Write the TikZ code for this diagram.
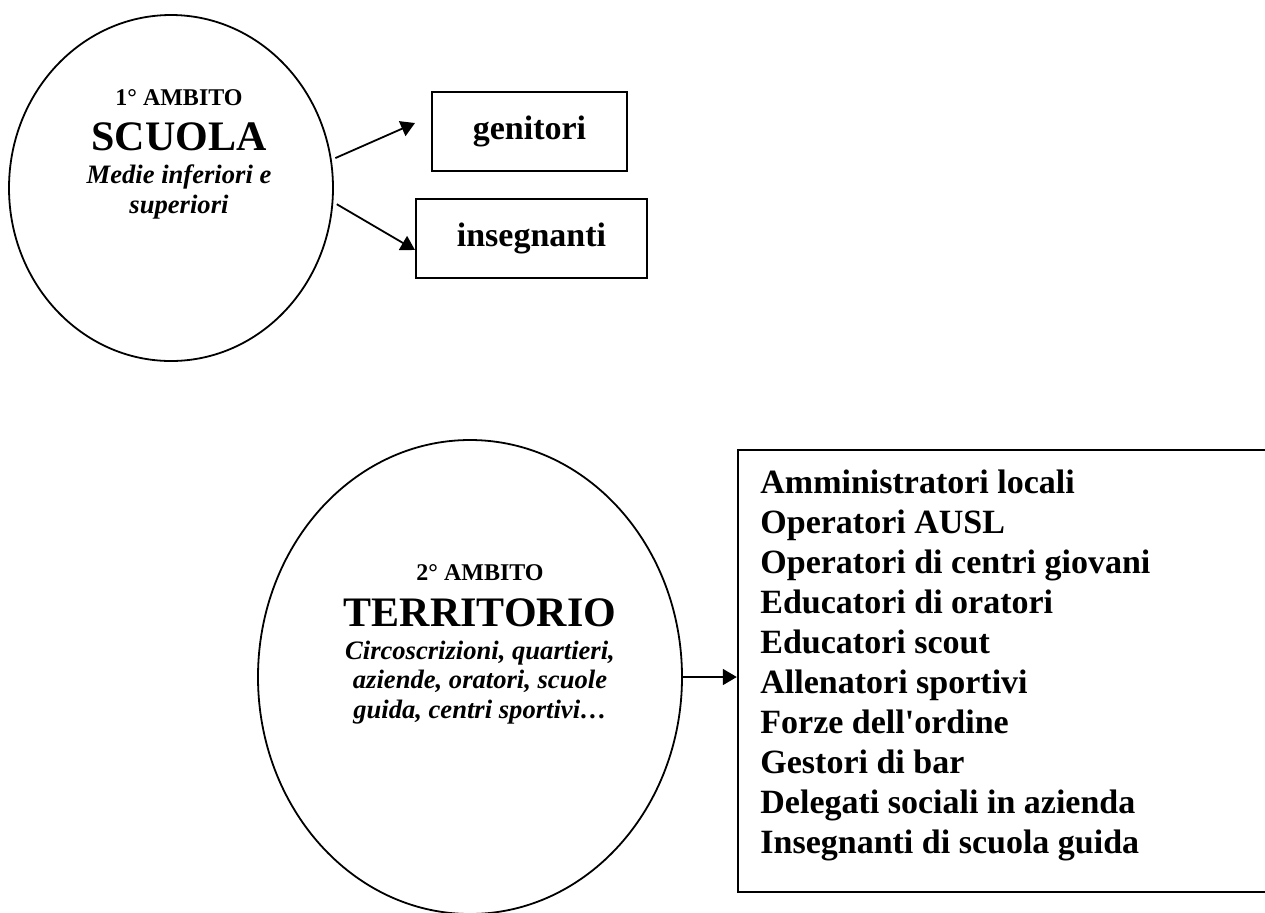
\documentclass[tikz,border=0pt]{standalone}
\usepackage{fontspec}
\setmainfont{Liberation Serif}
\usetikzlibrary{shapes.geometric,arrows.meta}
\newcommand\corpo[2]{\fontsize{#1}{#2}\selectfont\bfseries}

\begin{document}
\begin{tikzpicture}[x=0.5pt,y=-0.5pt,
  cerchio/.style={draw,ellipse,line width=0.9pt,inner sep=0pt},
  riquadro/.style={draw,rectangle,line width=1.2pt,inner sep=0pt},
  freccia/.style={line width=0.9pt,-{Triangle[length=7pt,width=8pt]}},
  piccolo/.style={anchor=base,font=\corpo{12}{14}},
  titolo/.style={anchor=base,font=\corpo{21}{24}},
  corsivo/.style={anchor=base,font=\corpo{13.3}{15}\itshape},
  voce/.style={anchor=base west,inner sep=0pt,font=\corpo{17}{20}}]
  \useasboundingbox (0,0) rectangle (1265,912);
  \clip (0,0) rectangle (1265,912);

  % 1st ambito: scuola
  \node[cerchio,minimum width=162pt,minimum height=173pt] (scuola) at (171,188) {};
  \node[piccolo] (amb1) at (179,105) {1° AMBITO};
  \node[titolo] (scuolatit) at (179,150) {SCUOLA};
  \foreach \riga [count=\i] in {{Medie inferiori e},{superiori}}
    \node[corsivo] (scuoladesc-\i) at (179,183+30*\i-30) {\riga};

  \node[riquadro,minimum width=97.5pt,minimum height=39.5pt,font=\corpo{17}{20}]
    (genitori) at (529.5,131.5) {genitori};
  \node[riquadro,minimum width=115.5pt,minimum height=39.5pt,font=\corpo{17}{20}]
    (insegnanti) at (531.5,238.5) {insegnanti};
  \coordinate (gtip) at (415,123);
  \coordinate (itip) at (415,250);
  \draw[freccia,shorten <=2pt] (scuola.10) -- (gtip);
  \draw[freccia,shorten <=2pt] (scuola.-5) -- (itip);

  % 2nd ambito: territorio
  \node[cerchio,minimum width=212pt,minimum height=237pt] (territorio) at (470,677) {};
  \node[piccolo] (amb2) at (480,580) {2° AMBITO};
  \node[titolo] (territoriotit) at (480,626) {TERRITORIO};
  \foreach \riga [count=\i] in {{Circoscrizioni, quartieri,},{aziende, oratori, scuole},
      {guida, centri sportivi…}}
    \node[corsivo] (territoriodesc-\i) at (480,659+29.5*\i-29.5) {\riga};

  % elenco (right side cut by the page)
  \node[riquadro,minimum width=268.5pt,minimum height=221pt] (elenco) at (1006.5,671) {};
  \foreach \voce [count=\i] in {Amministratori locali,Operatori AUSL,
      Operatori di centri giovani,Educatori di oratori,Educatori scout,
      Allenatori sportivi,Forze dell\textquotesingle ordine,Gestori di bar,
      Delegati sociali in azienda,Insegnanti di scuola guida}
    \node[voce] (voce-\i) at (760,493+40*\i-40) {\voce};
  \draw[freccia] (territorio.east) -- (elenco.west |- territorio.east);
\end{tikzpicture}
\end{document}
